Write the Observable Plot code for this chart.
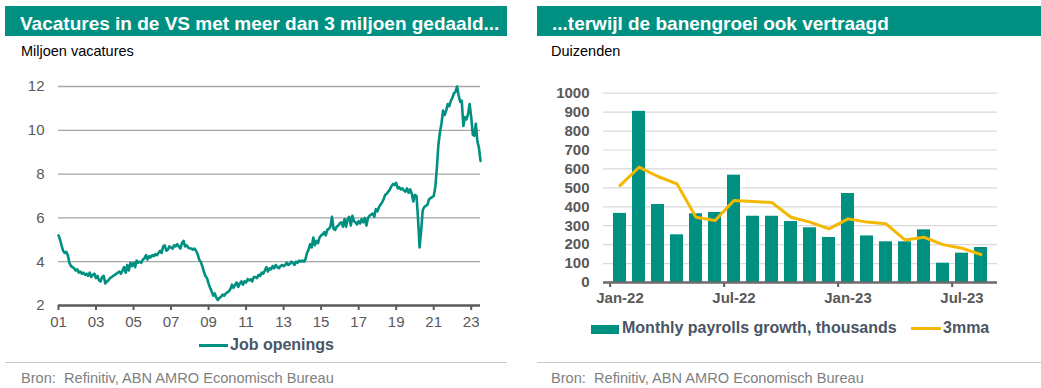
<!DOCTYPE html>
<html>
<head>
<meta charset="utf-8">
<script src="https://cdn.jsdelivr.net/npm/d3@7"></script>
<script src="https://cdn.jsdelivr.net/npm/@observablehq/plot@0.6"></script>
<style>
  html, body { margin: 0; padding: 0; background: #fff; }
  body { width: 1041px; height: 388px; position: relative; overflow: hidden;
         font-family: "Liberation Sans", Arial, sans-serif; }
  .abs { position: absolute; white-space: nowrap; }
  .hdr { position: absolute; top: 6px; height: 30px; background: #009081; }
  .title { color: #fff; font-weight: bold; font-size: 19px; line-height: 19px; }
  .sub { color: #000; font-size: 14.5px; line-height: 14.5px; }
  .src { color: #7f7f7f; font-size: 14.6px; line-height: 14.6px; }
  .rule { position: absolute; top: 362px; height: 1px; background: #c8c8c8; }
  .leg { color: #4a5565; font-weight: bold; font-size: 16px; line-height: 16px; }
  .plot { position: absolute; }
</style>
</head>
<body>
<div class="hdr" style="left:5px;width:502px"></div>
<div class="hdr" style="left:537px;width:504px"></div>
<div class="abs title" style="left:20px;top:14px">Vacatures in de VS met meer dan 3 miljoen gedaald...</div>
<div class="abs title" style="left:552px;top:14px">...terwijl de banengroei ook vertraagd</div>
<div class="abs sub" style="left:21px;top:44.4px">Miljoen vacatures</div>
<div class="abs sub" style="left:551px;top:44.4px">Duizenden</div>
<div id="left" class="plot" style="left:0px;top:70px"></div>
<div id="right" class="plot" style="left:520px;top:70px"></div>
<div class="abs" style="left:199px;top:344px;width:29px;height:3px;background:#009081"></div>
<div class="abs leg" style="left:230px;top:336.5px">Job openings</div>
<div class="abs" style="left:591px;top:325px;width:28px;height:9px;background:#009081"></div>
<div class="abs leg" style="left:622px;top:320px">Monthly payrolls growth, thousands</div>
<div class="abs" style="left:911px;top:327px;width:30px;height:3px;background:#f4b800"></div>
<div class="abs leg" style="left:943px;top:320px">3mma</div>
<div class="rule" style="left:5px;width:502px"></div>
<div class="rule" style="left:537px;width:504px"></div>
<div class="abs src" style="left:21px;top:370.6px">Bron:&nbsp; Refinitiv, ABN AMRO Economisch Bureau</div>
<div class="abs src" style="left:551px;top:370.6px">Bron:&nbsp; Refinitiv, ABN AMRO Economisch Bureau</div>

<script>
// ---------- Left chart data: JOLTS job openings (millions), monthly from Jan 2001 ----------
const openingsStart = "2001-01-01";
const jobOpenings = [
  5.2, 5.0, 4.75, 4.5, 4.4, 4.45, 4.3, 3.95, 3.8, 3.75, 3.7, 3.6,        // 2001
  3.65, 3.5, 3.55, 3.45, 3.5, 3.4, 3.45, 3.35, 3.5, 3.3, 3.4, 3.45,      // 2002
  3.25, 3.35, 3.15, 3.1, 3.3, 3.35, 3.0, 3.1, 3.15, 3.25, 3.3, 3.35,     // 2003
  3.4, 3.45, 3.5, 3.55, 3.45, 3.6, 3.75, 3.5, 3.85, 3.6, 3.95, 3.8,      // 2004
  3.95, 3.75, 4.05, 3.95, 4.0, 3.95, 4.1, 4.15, 4.3, 4.1, 4.25, 4.2,     // 2005
  4.3, 4.25, 4.35, 4.3, 4.4, 4.5, 4.4, 4.7, 4.75, 4.5, 4.55, 4.7,        // 2006
  4.65, 4.6, 4.75, 4.7, 4.8, 4.7, 4.6, 4.85, 4.95, 4.7, 4.75, 4.65,      // 2007
  4.6, 4.6, 4.55, 4.6, 4.5, 4.35, 4.1, 4.0, 3.8, 3.55, 3.35, 3.25,       // 2008
  3.0, 2.8, 2.65, 2.45, 2.55, 2.35, 2.25, 2.35, 2.4, 2.5, 2.45, 2.55,    // 2009
  2.6, 2.65, 2.75, 2.95, 2.8, 2.95, 3.05, 2.85, 3.0, 3.1, 2.95, 3.1,     // 2010
  3.05, 3.2, 3.15, 3.2, 3.1, 3.3, 3.3, 3.25, 3.4, 3.35, 3.5, 3.45,       // 2011
  3.6, 3.75, 3.55, 3.7, 3.65, 3.8, 3.7, 3.85, 3.75, 3.7, 3.8, 3.85,      // 2012
  3.8, 3.85, 3.95, 3.85, 3.9, 4.0, 3.95, 3.85, 4.0, 3.95, 4.05, 4.0,     // 2013
  4.05, 4.0, 4.1, 4.4, 4.55, 4.8, 4.65, 5.1, 4.75, 4.95, 4.85, 5.1,      // 2014
  5.2, 5.25, 5.35, 5.2, 5.45, 5.5, 5.6, 6.05, 5.5, 5.45, 5.6, 5.65,      // 2015
  5.75, 5.8, 5.6, 5.95, 5.6, 5.95, 6.05, 5.65, 6.1, 5.85, 5.8, 5.7,      // 2016
  5.85, 5.75, 5.95, 5.8, 6.0, 5.65, 6.0, 6.1, 6.15, 6.2, 6.05, 6.4,      // 2017
  6.3, 6.5, 6.6, 6.7, 6.85, 7.05, 7.1, 7.2, 7.3, 7.45, 7.55, 7.5,        // 2018
  7.6, 7.35, 7.4, 7.3, 7.35, 7.25, 7.2, 7.35, 7.15, 7.3, 7.1, 6.75,      // 2019
  7.05, 7.0, 6.0, 4.65, 5.4, 6.35, 6.5, 6.55, 6.6, 6.85, 6.9, 6.95,      // 2020
  7.0, 7.4, 8.2, 9.3, 9.9, 10.3, 10.9, 10.7, 10.9, 11.2, 11.1, 11.35,    // 2021
  11.5, 11.7, 11.75, 12.0, 11.6, 11.3, 11.35, 10.2, 10.6, 10.5, 10.75, 11.2, // 2022
  10.6, 9.8, 9.75, 10.3, 9.5, 9.2, 8.6                                   // 2023
];
const leftYTicks = [2, 4, 6, 8, 10, 12];
const leftXTickYears = [2001, 2003, 2005, 2007, 2009, 2011, 2013, 2015, 2017, 2019, 2021, 2023];

// ---------- Right chart data: monthly payrolls growth (thousands) ----------
const payrollMonths = ["Jan-22","Feb-22","Mar-22","Apr-22","May-22","Jun-22","Jul-22","Aug-22","Sep-22","Oct-22",
  "Nov-22","Dec-22","Jan-23","Feb-23","Mar-23","Apr-23","May-23","Jun-23","Jul-23","Aug-23"];
const payrolls = [365, 904, 412, 252, 363, 370, 567, 350, 350, 322, 289, 238, 470, 246, 215, 215, 278, 102, 155, 185];
const mma3 = [512, 609, 560, 521, 345, 327, 433, 428, 422, 345, 319, 283, 336, 319, 310, 225, 239, 200, 181, 148];
const rightYTicks = [0, 100, 200, 300, 400, 500, 600, 700, 800, 900, 1000];
const rightXTickLabels = ["Jan-22", "Jul-22", "Jan-23", "Jul-23"];

const teal = "#009081";
const yellow = "#f4b800";
const font = "'Liberation Sans', Arial, sans-serif";

// ---------- Left chart ----------
const start = new Date(openingsStart + "T00:00:00Z");
const openings = jobOpenings.map((v, i) => ({date: d3.utcMonth.offset(start, i), value: v}));
const leftXTicks = leftXTickYears.map(y => new Date(Date.UTC(y, 0, 1)));

const left = Plot.plot({
  width: 500, height: 270,
  marginLeft: 58, marginRight: 20, marginTop: 16, marginBottom: 35,
  style: {fontFamily: font, background: "transparent"},
  x: {type: "utc", domain: [start, openings[openings.length - 1].date]},
  y: {domain: [2, 12]},
  marks: [
    Plot.ruleY(leftYTicks.filter(d => d > 2), {stroke: "#a6a6a6", strokeWidth: 1.3}),
    Plot.axisY({ticks: leftYTicks, tickSize: 0, tickPadding: 14, fontSize: 15, fill: "#595959", label: null}),
    Plot.axisX({ticks: leftXTicks, tickSize: 5, tickPadding: 6, fontSize: 15, fill: "#595959",
      stroke: "#595959", strokeWidth: 2, tickFormat: d3.utcFormat("%y"), label: null}),
    Plot.ruleY([2], {stroke: "#595959", strokeWidth: 2.5}),
    Plot.line(openings, {x: "date", y: "value", stroke: teal, strokeWidth: 2.6})
  ]
});
document.getElementById("left").appendChild(left);

// ---------- Right chart ----------
const pay = payrollMonths.map((m, i) => ({month: m, value: payrolls[i], mma: mma3[i]}));
const rW = 521, rML = 83, rMR = 44;
const step = (rW - rML - rMR) / payrollMonths.length;

const right = Plot.plot({
  width: rW, height: 250,
  marginLeft: rML, marginRight: rMR, marginTop: 22.7, marginBottom: 38,
  style: {fontFamily: font, background: "transparent"},
  x: {type: "band", domain: payrollMonths, paddingInner: 0.34, paddingOuter: 0.17},
  y: {domain: [0, 1000]},
  marks: [
    Plot.ruleY(rightYTicks.filter(d => d > 0), {stroke: "#d9d9d9", strokeWidth: 1.2}),
    Plot.axisY({ticks: rightYTicks, tickSize: 0, tickPadding: 14, fontSize: 15, fontWeight: "bold",
      fill: "#595959", tickFormat: d => String(d), label: null}),
    Plot.barY(pay, {x: "month", y: "value", fill: teal}),
    Plot.axisX({ticks: rightXTickLabels, tickSize: 5, tickFormat: () => "", dx: -step / 2,
      stroke: "#595959", strokeWidth: 2, label: null}),
    Plot.axisX({ticks: rightXTickLabels, tickSize: 0, tickPadding: 10, fontSize: 15, fontWeight: "bold",
      fill: "#595959", label: null}),
    Plot.ruleY([0], {stroke: "#6b6b6b", strokeWidth: 2.5}),
    Plot.line(pay, {x: "month", y: "mma", stroke: yellow, strokeWidth: 3})
  ]
});
document.getElementById("right").appendChild(right);
</script>
</body>
</html>
